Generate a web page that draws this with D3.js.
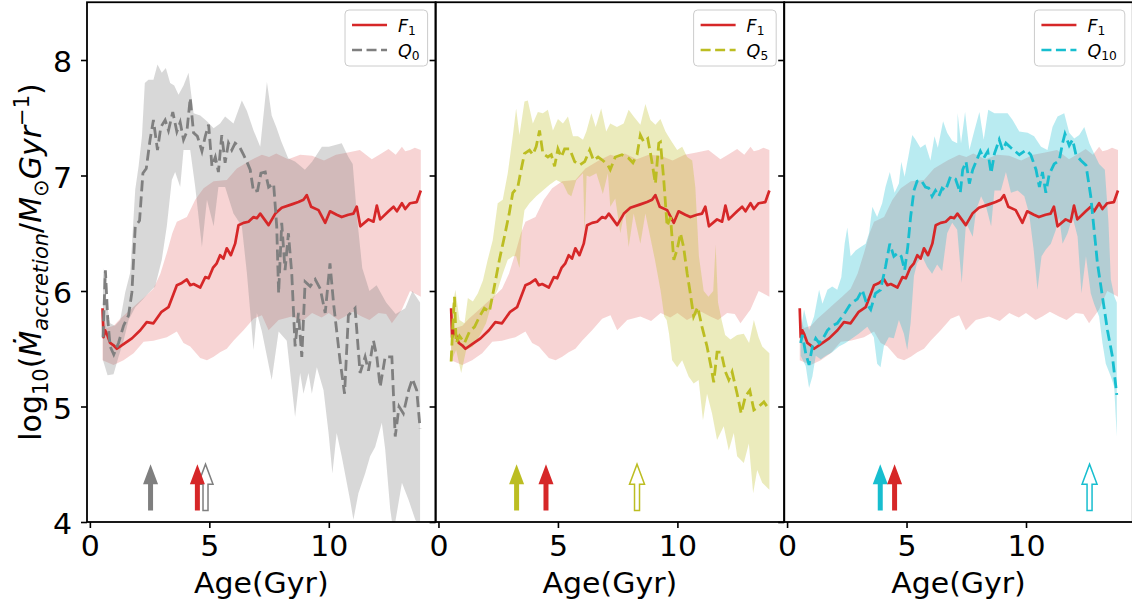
<!DOCTYPE html>
<html>
<head>
<meta charset="utf-8">
<script src="https://cdn.jsdelivr.net/npm/d3@7"></script>
<style>
  body { margin: 0; background: #fff; }
  text { font-family: "DejaVu Sans", sans-serif; }
</style>
</head>
<body>
<svg id="chart" width="1132" height="607"></svg>
<script>
// ---------- data: [age (Gyr), log10 Mdot] ----------
const f1Med = [[0.53,5.85],[0.57,5.60],[0.64,5.66],[0.71,5.63],[0.85,5.55],[0.99,5.53],[1.13,5.50],[1.41,5.54],[1.76,5.59],[2.11,5.66],[2.38,5.73],[2.66,5.72],[3.00,5.82],[3.29,5.86],[3.64,6.05],[3.85,6.07],[4.06,6.10],[4.20,6.05],[4.34,6.06],[4.62,6.03],[4.83,6.12],[4.97,6.11],[5.15,6.20],[5.31,6.24],[5.45,6.31],[5.59,6.28],[5.73,6.37],[5.90,6.31],[6.08,6.41],[6.22,6.57],[6.43,6.59],[6.64,6.60],[6.85,6.64],[6.99,6.63],[7.13,6.67],[7.48,6.57],[7.76,6.67],[8.03,6.72],[8.45,6.75],[8.73,6.77],[8.94,6.79],[9.08,6.83],[9.26,6.73],[9.57,6.70],[9.85,6.59],[10.05,6.69],[10.33,6.66],[10.54,6.64],[10.82,6.66],[11.03,6.67],[11.17,6.73],[11.32,6.56],[11.66,6.62],[11.87,6.60],[12.01,6.74],[12.15,6.62],[12.50,6.69],[12.71,6.73],[12.85,6.69],[13.06,6.76],[13.20,6.71],[13.40,6.76],[13.68,6.77],[13.85,6.87]];
const f1Hi = [[0.53,5.80],[0.70,5.68],[1.00,5.70],[1.27,5.76],[1.60,5.82],[1.97,5.89],[2.30,5.95],[2.66,6.02],[2.95,6.15],[3.22,6.33],[3.45,6.50],[3.64,6.60],[4.06,6.64],[4.41,6.79],[4.76,6.89],[5.18,6.95],[5.73,6.96],[6.15,7.06],[6.71,7.13],[7.20,7.18],[7.50,7.16],[7.80,7.19],[8.30,7.14],[8.80,7.18],[9.30,7.17],[9.80,7.13],[10.30,7.18],[10.80,7.20],[11.30,7.22],[11.80,7.14],[12.20,7.19],[12.50,7.23],[12.80,7.18],[13.06,7.25],[13.20,7.21],[13.40,7.22],[13.60,7.24],[13.85,7.22]];
const f1Lo = [[0.53,5.40],[0.99,5.36],[1.41,5.40],[1.83,5.46],[2.25,5.56],[2.66,5.57],[3.22,5.60],[3.64,5.65],[3.92,5.55],[4.20,5.52],[4.62,5.42],[4.90,5.40],[5.18,5.43],[5.45,5.47],[5.73,5.50],[6.01,5.57],[6.43,5.66],[6.85,5.76],[7.20,5.79],[7.48,5.66],[7.90,5.75],[8.45,5.78],[8.90,5.74],[9.30,5.81],[9.70,5.77],[10.00,5.81],[10.40,5.75],[10.68,5.78],[11.00,5.82],[11.38,5.78],[11.70,5.75],[12.08,5.81],[12.40,5.80],[12.64,5.72],[13.06,5.84],[13.40,6.00],[13.68,5.97],[13.85,5.95]];

const q0Med = [[0.55,5.60],[0.65,6.18],[0.75,5.75],[0.85,5.52],[1.00,5.45],[1.10,5.50],[1.20,5.55],[1.41,5.70],[1.62,5.79],[1.76,5.99],[1.90,6.56],[2.08,6.61],[2.22,7.02],[2.36,7.06],[2.52,7.31],[2.66,7.48],[2.83,7.22],[2.97,7.42],[3.15,7.48],[3.29,7.39],[3.47,7.55],[3.64,7.38],[3.78,7.46],[3.92,7.31],[4.06,7.38],[4.20,7.67],[4.34,7.37],[4.50,7.34],[4.69,7.21],[4.83,7.34],[4.97,7.44],[5.11,7.08],[5.25,7.16],[5.38,7.03],[5.52,7.35],[5.66,7.11],[5.80,7.28],[5.94,7.22],[6.08,7.28],[6.26,7.25],[6.43,7.18],[6.57,7.12],[6.71,7.05],[6.85,6.86],[7.02,6.87],[7.16,7.02],[7.34,7.03],[7.48,6.90],[7.69,6.93],[7.82,6.56],[7.90,5.98],[8.03,6.59],[8.17,6.18],[8.31,6.50],[8.45,6.15],[8.59,5.52],[8.73,5.81],[8.87,5.43],[9.01,6.08],[9.22,6.04],[9.43,6.10],[9.64,6.02],[9.85,5.81],[10.05,6.24],[10.20,5.89],[10.47,5.40],[10.66,5.11],[10.82,5.79],[11.10,5.85],[11.31,5.29],[11.52,5.43],[11.66,5.31],[11.87,5.57],[12.01,5.43],[12.15,5.17],[12.36,5.43],[12.64,5.43],[12.78,4.74],[12.94,5.00],[13.12,4.94],[13.34,5.14],[13.50,5.24],[13.68,5.14],[13.82,4.81]];
const q0Hi = [[0.55,6.20],[0.70,5.90],[0.85,5.72],[1.05,5.70],[1.27,5.75],[1.48,5.99],[1.69,6.16],[1.90,6.88],[2.04,7.08],[2.18,7.34],[2.30,7.80],[2.45,7.83],[2.66,7.83],[2.83,7.96],[3.01,7.89],[3.18,7.93],[3.36,7.80],[3.53,7.78],[3.71,7.70],[3.92,7.78],[4.13,7.89],[4.34,7.54],[4.62,7.52],[4.90,7.47],[5.18,7.41],[5.45,7.45],[5.66,7.51],[6.01,7.45],[6.36,7.65],[6.57,7.56],[6.85,7.39],[7.13,7.25],[7.41,7.81],[7.61,7.52],[7.82,7.41],[8.00,7.30],[8.30,7.15],[8.60,7.12],[9.00,7.05],[9.30,7.12],[9.71,7.25],[10.00,7.25],[10.54,7.28],[10.82,7.16],[11.00,7.10],[11.20,6.60],[11.40,6.20],[11.70,6.00],[12.00,6.05],[12.40,5.90],[12.80,5.80],[13.20,5.85],[13.50,6.00],[13.82,5.90]];
const q0Lo = [[0.55,5.40],[0.74,5.27],[0.99,5.28],[1.20,5.43],[1.41,5.57],[1.62,5.75],[1.90,5.86],[2.18,5.92],[2.45,5.98],[2.73,6.04],[3.01,6.27],[3.22,6.56],[3.43,6.96],[3.57,7.03],[3.78,6.90],[3.92,7.22],[4.20,7.22],[4.41,6.90],[4.69,6.38],[4.90,6.79],[5.18,6.56],[5.38,6.90],[5.66,6.90],[6.01,6.67],[6.36,6.56],[6.57,6.16],[6.85,5.49],[6.99,5.81],[7.20,5.65],[7.61,5.23],[7.90,5.65],[8.24,5.57],[8.59,4.91],[8.80,5.29],[8.94,5.11],[9.15,5.29],[9.29,5.11],[9.50,5.34],[9.78,5.14],[9.99,4.77],[10.15,4.42],[10.33,4.77],[10.54,4.57],[10.89,4.19],[11.03,4.02],[11.24,4.25],[11.52,4.42],[11.73,4.57],[11.94,4.65],[12.22,4.86],[12.36,4.63],[12.57,4.11],[12.71,3.91],[13.06,4.34],[13.34,4.19],[13.62,4.02],[13.82,3.96]];

const q5Med = [[0.53,5.39],[0.60,5.70],[0.67,5.95],[0.74,5.55],[0.88,5.61],[1.09,5.55],[1.30,5.65],[1.51,5.69],[1.72,5.78],[1.92,5.85],[2.13,5.82],[2.34,6.04],[2.55,6.27],[2.76,6.47],[2.96,6.67],[3.11,6.85],[3.32,6.90],[3.46,7.05],[3.60,7.19],[3.81,7.22],[3.95,7.18],[4.09,7.25],[4.23,7.39],[4.37,7.19],[4.58,7.16],[4.72,7.18],[4.86,7.08],[5.00,7.23],[5.14,7.16],[5.28,7.23],[5.49,7.23],[5.70,7.12],[5.91,7.09],[6.12,7.12],[6.33,7.22],[6.49,7.13],[6.68,7.16],[6.88,7.13],[7.09,7.09],[7.19,7.05],[7.40,7.16],[7.68,7.18],[7.96,7.15],[8.14,7.11],[8.31,7.18],[8.45,7.35],[8.59,7.29],[8.76,7.32],[8.90,7.16],[9.08,6.93],[9.22,7.28],[9.29,7.29],[9.43,6.96],[9.57,6.56],[9.71,6.64],[9.85,6.27],[9.99,6.36],[10.13,6.50],[10.26,6.38],[10.41,6.15],[10.54,5.98],[10.68,5.78],[10.85,5.86],[11.03,5.69],[11.24,5.52],[11.41,5.34],[11.52,5.21],[11.66,5.47],[11.83,5.47],[12.01,5.30],[12.15,5.23],[12.29,5.30],[12.50,5.11],[12.67,4.94],[12.85,5.09],[13.03,5.14],[13.20,4.97],[13.41,5.00],[13.62,5.04],[13.85,4.97]];
const q5Hi = [[0.53,5.81],[0.71,6.01],[0.88,5.75],[1.09,5.72],[1.23,5.94],[1.44,5.91],[1.65,5.98],[1.86,6.09],[2.06,6.27],[2.27,6.44],[2.48,6.76],[2.69,6.79],[2.90,7.02],[3.11,7.34],[3.25,7.58],[3.39,7.35],[3.60,7.64],[3.74,7.65],[3.95,7.45],[4.16,7.55],[4.37,7.54],[4.58,7.57],[4.79,7.39],[5.00,7.49],[5.21,7.45],[5.42,7.51],[5.63,7.34],[5.84,7.34],[6.05,7.31],[6.19,7.38],[6.40,7.54],[6.58,7.42],[6.81,7.58],[7.02,7.38],[7.19,7.45],[7.47,7.42],[7.75,7.45],[7.96,7.57],[8.17,7.51],[8.45,7.44],[8.66,7.62],[8.87,7.48],[9.08,7.44],[9.29,7.49],[9.50,7.38],[9.71,7.31],[9.99,7.22],[10.20,7.25],[10.41,7.16],[10.62,7.13],[10.75,6.90],[10.90,6.30],[11.10,6.00],[11.30,5.95],[11.50,6.00],[11.60,6.40],[11.70,5.90],[11.85,5.75],[12.00,5.62],[12.22,5.58],[12.50,5.62],[12.78,5.63],[13.00,5.55],[13.20,5.75],[13.40,5.60],[13.55,5.52],[13.85,5.46]];
const q5Lo = [[0.53,5.39],[0.74,5.49],[0.95,5.29],[1.16,5.49],[1.44,5.52],[1.72,5.61],[1.99,5.72],[2.27,5.92],[2.48,6.01],[2.69,6.15],[2.90,6.27],[3.11,6.30],[3.25,6.30],[3.39,6.20],[3.50,6.55],[3.60,6.70],[3.81,6.76],[4.09,6.82],[4.37,6.87],[4.65,6.92],[4.93,6.96],[5.21,6.93],[5.42,6.84],[5.56,6.82],[5.77,6.96],[6.05,7.02],[6.12,6.50],[6.20,7.00],[6.33,6.99],[6.61,7.02],[6.88,6.84],[7.09,7.02],[7.19,6.73],[7.40,6.80],[7.61,6.50],[7.80,6.70],[7.96,6.38],[8.17,6.67],[8.45,6.41],[8.66,6.67],[9.06,6.27],[9.30,6.00],[9.45,5.78],[9.55,5.75],[9.65,5.63],[9.78,5.40],[9.99,5.34],[10.20,5.40],[10.47,5.26],[10.68,5.20],[10.89,5.23],[11.07,4.88],[11.24,5.11],[11.45,4.94],[11.66,4.71],[11.94,4.83],[12.15,4.62],[12.36,4.77],[12.50,4.57],[12.78,4.51],[12.99,4.68],[13.17,4.25],[13.34,4.45],[13.55,4.34],[13.85,4.28]];

const q10Med = [[0.57,5.55],[0.64,5.62],[0.78,5.46],[0.92,5.36],[1.06,5.52],[1.20,5.59],[1.34,5.55],[1.48,5.58],[1.69,5.66],[1.89,5.70],[2.10,5.72],[2.31,5.78],[2.45,5.82],[2.66,5.89],[2.80,5.91],[2.94,5.93],[3.15,6.01],[3.33,5.89],[3.50,5.84],[3.70,5.98],[3.91,6.01],[4.12,6.21],[4.30,6.41],[4.47,6.30],[4.64,6.33],[4.78,6.30],[4.92,6.18],[5.05,6.38],[5.17,6.64],[5.31,6.87],[5.44,6.95],[5.61,6.96],[5.79,6.90],[5.93,6.89],[6.07,6.82],[6.21,6.87],[6.35,6.82],[6.49,6.89],[6.63,6.87],[6.84,6.99],[7.05,6.97],[7.25,6.85],[7.35,7.05],[7.49,7.12],[7.63,6.93],[7.77,7.05],[7.91,7.12],[8.09,7.21],[8.23,7.15],[8.40,7.21],[8.54,7.02],[8.68,7.19],[8.88,7.31],[9.02,7.22],[9.16,7.28],[9.37,7.24],[9.72,7.18],[10.00,7.22],[10.20,7.18],[10.42,7.05],[10.56,6.90],[10.69,7.03],[10.83,6.85],[10.97,7.01],[11.18,7.10],[11.39,7.13],[11.53,7.28],[11.63,7.36],[11.81,7.26],[11.95,7.31],[12.09,7.18],[12.30,7.13],[12.51,7.09],[12.71,6.82],[12.85,6.53],[12.99,6.24],[13.20,5.95],[13.41,5.66],[13.62,5.43],[13.80,5.10]];
const q10Hi = [[0.57,5.66],[0.71,5.84],[0.92,5.66],[1.13,5.78],[1.34,6.01],[1.48,5.89],[1.69,6.01],[1.89,6.04],[2.10,6.01],[2.27,6.12],[2.41,6.41],[2.52,6.55],[2.66,6.30],[2.87,6.35],[3.08,6.38],[3.29,6.41],[3.43,6.50],[3.57,6.73],[3.77,6.64],[3.98,6.76],[4.12,6.90],[4.30,7.03],[4.50,6.85],[4.68,6.93],[4.78,7.12],[4.92,6.99],[5.10,7.19],[5.24,7.35],[5.38,7.31],[5.58,7.24],[5.79,7.27],[6.00,7.13],[6.17,7.34],[6.31,7.24],[6.53,7.47],[6.70,7.37],[6.91,7.30],[7.12,7.28],[7.14,7.54],[7.28,7.28],[7.45,7.55],[7.63,7.22],[7.84,7.39],[8.05,7.55],[8.23,7.31],[8.42,7.57],[8.68,7.54],[8.95,7.54],[9.23,7.54],[9.44,7.48],[9.72,7.38],[10.07,7.37],[10.34,7.34],[10.63,7.25],[10.90,7.22],[11.11,7.42],[11.32,7.51],[11.60,7.54],[11.81,7.37],[12.02,7.32],[12.23,7.35],[12.44,7.42],[12.65,7.28],[12.85,7.19],[13.06,7.10],[13.30,7.05],[13.45,6.60],[13.55,6.10],[13.70,5.95],[13.80,5.90]];
const q10Lo = [[0.57,5.44],[0.78,5.35],[0.92,5.16],[1.06,5.26],[1.20,5.44],[1.41,5.41],[1.62,5.44],[1.89,5.47],[2.17,5.52],[2.45,5.55],[2.73,5.59],[3.00,5.63],[3.36,5.69],[3.63,5.60],[3.77,5.37],[3.91,5.34],[4.05,5.52],[4.26,5.60],[4.47,5.59],[4.68,5.75],[4.89,5.63],[5.03,5.49],[5.17,5.72],[5.31,6.13],[5.44,6.24],[5.65,6.30],[5.86,6.21],[6.07,6.15],[6.28,6.23],[6.49,6.17],[6.70,6.50],[6.91,6.59],[7.12,6.53],[7.31,6.07],[7.49,6.59],[7.77,6.47],[7.91,6.70],[8.12,6.82],[8.33,6.73],[8.54,6.56],[8.68,6.87],[8.95,6.87],[9.16,7.03],[9.37,6.85],[9.65,6.87],[9.93,6.82],[10.13,6.67],[10.32,6.36],[10.48,6.01],[10.65,6.30],[10.83,6.36],[11.04,6.41],[11.25,6.53],[11.39,6.64],[11.53,6.41],[11.74,6.50],[11.95,6.64],[12.16,6.47],[12.32,5.98],[12.51,6.30],[12.71,5.98],[12.85,5.89],[13.06,5.78],[13.20,5.55],[13.34,5.37],[13.55,5.26],[13.69,5.17],[13.80,4.74]];

// arrow positions (Gyr): filled Q, open Q, F1
const qArrowFilled = [2.54, 3.27, 3.90];
const qArrowOpen = [4.84, 8.31, 12.66];
const f1Arrow = 4.5;

const qNames = ["0", "5", "10"];
const qColors = ["#7f7f7f", "#bcbd22", "#17becf"];
const qMed = [q0Med, q5Med, q10Med];
const qHi = [q0Hi, q5Hi, q10Hi];
const qLo = [q0Lo, q5Lo, q10Lo];

const xTicks = [0, 5, 10];
const yTicks = [4, 5, 6, 7, 8];

// ---------- layout ----------
const red = "#d62728";
const svg = d3.select("#chart");
const left0 = 87, panelW = 348.6, plotTop = 2.25, plotBottom = 522;
const wide = 1.09; // the source picture is slightly stretched sideways

const x = d3.scaleLinear().domain([-0.12, 14.47]).range([0, panelW]);
const y = d3.scaleLinear().domain([4, 8.5]).range([plotBottom, plotTop]);

const line = d3.line().x(d => x(d[0])).y(d => y(d[1]));
function band(hi, lo){ return line(hi.concat(lo.slice().reverse())) + "Z"; }

function arrowPath(age){
  const cx = x(age), yb = y(4.1), yt = y(4.5);
  const hl = 20, hw = 7.5, sw = 2.5;
  return `M${cx-sw},${yb} L${cx-sw},${yt+hl} L${cx-hw},${yt+hl} L${cx},${yt} L${cx+hw},${yt+hl} L${cx+sw},${yt+hl} L${cx+sw},${yb} Z`;
}

// widen horizontal text a little to match the source
function stretch(sel){
  sel.each(function(){
    const n = this, w = n.getComputedTextLength();
    if(w > 0) d3.select(n).attr("textLength", w*wide).attr("lengthAdjust","spacingAndGlyphs");
  });
}

// math-like label built from tspans
function mathText(sel, parts, size){
  let shift = 0;
  parts.forEach(p => {
    const s = p.sub ? size*0.22 : p.sup ? -size*0.4 : 0;
    sel.append("tspan")
      .attr("dy", s - shift)
      .attr("font-size", (p.sub || p.sup) ? size*0.7 : size)
      .attr("font-style", p.it ? "italic" : "normal")
      .text(p.t);
    shift = s;
  });
}

for(let i=0;i<3;i++){
  const g = svg.append("g").attr("transform", `translate(${left0 + i*panelW},0)`);
  const clipId = "clip"+i;
  g.append("clipPath").attr("id", clipId).append("rect")
    .attr("x",0).attr("y",plotTop).attr("width",panelW).attr("height",plotBottom-plotTop);
  const plot = g.append("g").attr("clip-path", `url(#${clipId})`);

  plot.append("path").attr("d", band(f1Hi, f1Lo)).attr("fill", red).attr("fill-opacity", 0.2);
  plot.append("path").attr("d", band(qHi[i], qLo[i])).attr("fill", qColors[i]).attr("fill-opacity", 0.3);
  plot.append("path").attr("d", line(f1Med)).attr("fill","none").attr("stroke", red)
    .attr("stroke-width", 2.7).attr("stroke-linejoin","round");
  plot.append("path").attr("d", line(qMed[i])).attr("fill","none").attr("stroke", qColors[i])
    .attr("stroke-width", 2.8).attr("stroke-dasharray","11,5");

  // arrows
  plot.append("path").attr("d", arrowPath(qArrowFilled[i])).attr("fill", qColors[i]);
  plot.append("path").attr("d", arrowPath(qArrowOpen[i])).attr("fill", "#fff")
    .attr("stroke", qColors[i]).attr("stroke-width", 1.5);
  plot.append("path").attr("d", arrowPath(f1Arrow)).attr("fill", red);

  // frame
  g.append("rect").attr("x",0).attr("y",plotTop).attr("width",panelW).attr("height",plotBottom-plotTop)
    .attr("fill","none").attr("stroke","#000").attr("stroke-width",1.8);

  // x axis
  const xa = g.append("g").attr("transform", `translate(0,${plotBottom})`)
    .call(d3.axisBottom(x).tickValues(xTicks).tickSize(6).tickPadding(8).tickFormat(d3.format("d")));
  xa.select(".domain").remove();
  xa.selectAll("line").attr("stroke-width", 1.6);
  xa.selectAll("text").attr("font-size", 27.5).attr("fill","#000").attr("font-family","DejaVu Sans");
  stretch(xa.selectAll("text"));

  // y axis
  const ya = g.append("g")
    .call(d3.axisLeft(y).tickValues(yTicks).tickSize(6).tickPadding(9).tickFormat(i===0 ? d3.format("d") : ""));
  ya.select(".domain").remove();
  ya.selectAll("line").attr("stroke-width", 1.6);
  ya.selectAll("text").attr("font-size", 27.5).attr("fill","#000").attr("font-family","DejaVu Sans")
    .attr("dy", "0.42em");
  stretch(ya.selectAll("text"));

  const xl = g.append("text").attr("x", panelW/2).attr("y", 593).attr("text-anchor","middle")
    .attr("font-size", 27.5).text("Age(Gyr)");
  stretch(xl);

  // legend
  const lg = g.append("g");
  const box = lg.append("rect").attr("y", 10).attr("height", 56).attr("rx", 4)
    .attr("fill","#fff").attr("fill-opacity",0.8).attr("stroke","#cccccc").attr("stroke-width",1);
  const entries = [
    {c: red, dash: null, parts: [{t:"F", it:true},{t:"1", sub:true}]},
    {c: qColors[i], dash: "10,4.5", parts: [{t:"Q", it:true},{t:qNames[i], sub:true}]}
  ];
  const rows = [];
  entries.forEach((e, k) => {
    const ly = 25 + k*25;
    const ln = lg.append("line").attr("y1", ly).attr("y2", ly)
      .attr("stroke", e.c).attr("stroke-width", 2.5);
    if(e.dash) ln.attr("stroke-dasharray", e.dash);
    const t = lg.append("text").attr("y", ly + 6.5);
    mathText(t, e.parts, 17.5);
    rows.push({ln, t});
  });
  const tw = d3.max(rows, r => r.t.node().getComputedTextLength());
  const bw = 7 + 35 + 11 + tw + 8;
  const bx = panelW - 8 - bw;
  box.attr("x", bx).attr("width", bw);
  rows.forEach(r => {
    r.ln.attr("x1", bx + 7).attr("x2", bx + 42);
    r.t.attr("x", bx + 53);
  });
}

// y label
const yl = svg.append("text").attr("transform", "translate(41,262) rotate(-90)")
  .attr("text-anchor","middle");
mathText(yl, [
  {t:"log"}, {t:"10", sub:true}, {t:"("}, {t:"Ṁ", it:true}, {t:"accretion", it:true, sub:true},
  {t:"/"}, {t:"M", it:true}, {t:"⊙", sub:true}, {t:"Gyr", it:true}, {t:"−1", sup:true}, {t:")"}
], 30);
</script>
</body>
</html>
